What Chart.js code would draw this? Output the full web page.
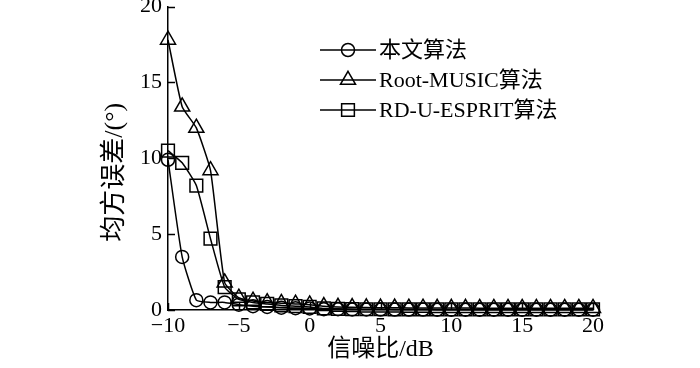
<!DOCTYPE html>
<html>
<head>
<meta charset="utf-8">
<script src="https://cdn.jsdelivr.net/npm/chart.js@4.4.0/dist/chart.umd.min.js"></script>
<style>
html,body{margin:0;padding:0;background:#fff;overflow:hidden;}
#wrap{width:700px;height:368px;overflow:hidden;position:relative;}
#c{position:absolute;left:0;top:-4px;}
</style>
</head>
<body>
<div id="wrap"><canvas id="c" width="700" height="372"></canvas></div>
<script>
const snr = [-10,-9,-8,-7,-6,-5,-4,-3,-2,-1,0,1,2,3,4,5,6,7,8,9,10,11,12,13,14,15,16,17,18,19,20];
const seriesNames = ['本文算法','Root-MUSIC算法','RD-U-ESPRIT算法'];
const proposed = [9.9,3.5,0.65,0.5,0.5,0.35,0.25,0.2,0.15,0.12,0.1,0.05,0.05,0.04,0.04,0.03,0.03,0.03,0.03,0.02,0.02,0.02,0.02,0.02,0.02,0.02,0.02,0.02,0.02,0.02,0.02];
const rootMusic = [17.8,13.4,12.0,9.2,1.8,0.8,0.6,0.5,0.45,0.4,0.35,0.25,0.2,0.18,0.16,0.15,0.15,0.14,0.14,0.13,0.13,0.13,0.12,0.12,0.12,0.12,0.12,0.12,0.12,0.12,0.12];
const rdEsprit = [10.5,9.7,8.2,4.7,1.5,0.7,0.5,0.4,0.3,0.25,0.2,0.1,0.08,0.06,0.05,0.05,0.04,0.04,0.04,0.04,0.04,0.04,0.04,0.04,0.04,0.04,0.04,0.04,0.04,0.04,0.04];
const xTicks = [-10,-5,0,5,10,15,20];
const yTicks = [0,5,10,15,20];
const yTitle = '均方误差/(°)';
const xTitle = '信噪比/dB';

const FONT = "'Liberation Serif', 'Times New Roman', 'Noto Sans CJK SC', serif";
const styles = [
  {pointStyle:'circle', radius:6.5},
  {pointStyle:'triangle', radius:8.7},
  {pointStyle:'rect', radius:9}
];
const values = [proposed, rootMusic, rdEsprit];

const datasets = values.map((v,i)=>({
  label: seriesNames[i],
  data: snr.map((x,k)=>({x:x,y:v[k]})),
  borderColor:'#000',
  backgroundColor:'rgba(0,0,0,0)',
  borderWidth:1.5,
  pointStyle: styles[i].pointStyle,
  pointRadius: styles[i].radius,
  pointBorderWidth:1.5,
  pointBorderColor:'#000',
  pointBackgroundColor:'rgba(0,0,0,0)',
  tension:0.15,
  clip:false
}));

const extras = {
  id:'extras',
  afterDraw(chart){
    const ctx = chart.ctx;
    const xs = chart.scales.x, ys = chart.scales.y;
    const a = chart.chartArea;
    ctx.save();
    ctx.strokeStyle='#000';
    ctx.lineWidth=1.5;
    yTicks.forEach(t=>{
      const py = Math.round(ys.getPixelForValue(t))+0.5;
      ctx.beginPath(); ctx.moveTo(a.left, py); ctx.lineTo(a.left+7, py); ctx.stroke();
    });
    xTicks.forEach(t=>{
      const px = Math.round(xs.getPixelForValue(t))+0.5;
      ctx.beginPath(); ctx.moveTo(px, a.bottom); ctx.lineTo(px, a.bottom-7); ctx.stroke();
    });
    // y axis title, rotated
    ctx.save();
    ctx.translate(a.left - 53, (a.top + a.bottom)/2 + 14);
    ctx.rotate(-Math.PI/2);
    ctx.font = "26px " + FONT;
    ctx.textAlign='center';
    ctx.textBaseline='middle';
    ctx.fillStyle='#000';
    ctx.fillText(yTitle, 0, 0);
    ctx.restore();
    // legend
    const lx0 = 320, lx1 = 376, ly0 = 54, dy = 30;
    ctx.font = "22px " + FONT;
    ctx.textBaseline='middle';
    chart.data.datasets.forEach((ds,i)=>{
      const y = ly0 + i*dy;
      ctx.strokeStyle='#000';
      ctx.lineWidth=1.5;
      ctx.beginPath(); ctx.moveTo(lx0,y); ctx.lineTo(lx1,y); ctx.stroke();
      ctx.fillStyle='rgba(0,0,0,0)';
      Chart.helpers.drawPoint(ctx,{pointStyle:ds.pointStyle, rotation:0, borderWidth:1.5, radius:ds.pointRadius}, (lx0+lx1)/2, y);
      ctx.fillStyle='#000';
      ctx.fillText(ds.label, lx1+3, y+1);
    });
    ctx.restore();
  }
};

new Chart(document.getElementById('c'),{
  type:'line',
  data:{datasets},
  plugins:[extras],
  options:{
    responsive:false,
    animation:false,
    devicePixelRatio:1,
    layout:{padding:{left:98,right:107,top:2,bottom:4}},
    plugins:{legend:{display:false},tooltip:{enabled:false}},
    scales:{
      x:{
        type:'linear', min:-10, max:20,
        afterBuildTicks(s){ s.ticks = xTicks.map(v=>({value:v})); },
        afterFit(s){ s.height = 54; s.paddingLeft = 0; s.paddingRight = 0; },
        ticks:{color:'#000',font:{family:FONT,size:22},padding:3,maxRotation:0,
          callback:v=>String(v).replace('-','\u2212')},
        grid:{display:false,drawTicks:false},
        border:{display:true,color:'#000',width:1.5},
        title:{display:true,text:xTitle,color:'#000',font:{family:FONT,size:24},padding:{top:0,bottom:0}}
      },
      y:{
        type:'linear', min:0, max:20,
        afterBuildTicks(s){ s.ticks = yTicks.map(v=>({value:v})); },
        afterFit(s){ s.width = 70; s.paddingTop = 0; s.paddingBottom = 0; },
        ticks:{color:'#000',font:{family:FONT,size:22},padding:6,
          callback:v=>String(v)},
        grid:{display:false,drawTicks:false},
        border:{display:true,color:'#000',width:1.5},
        title:{display:false}
      }
    }
  }
});
</script>
</body>
</html>
